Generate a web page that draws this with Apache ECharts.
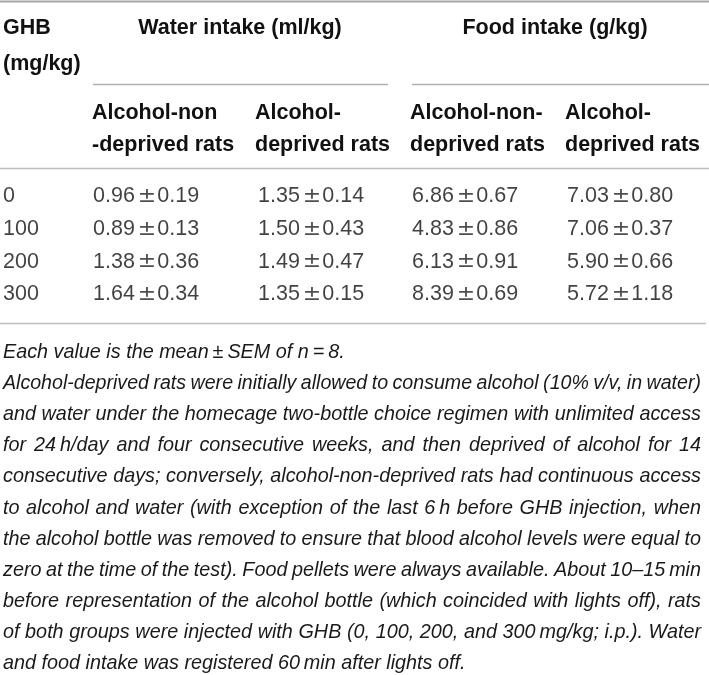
<!DOCTYPE html>
<html>
<head>
<meta charset="utf-8">
<script src="https://cdn.jsdelivr.net/npm/echarts@6/dist/echarts.min.js"></script>
<style>html,body{margin:0;padding:0;background:#fff}#c{width:709px;height:675px}</style>
</head>
<body>
<div id="c"></div>
<script>
// ---- data ----
const doses = ['0', '100', '200', '300'];
const waterNonDepMean = [0.96, 0.89, 1.38, 1.64];
const waterNonDepSem  = [0.19, 0.13, 0.36, 0.34];
const waterDepMean    = [1.35, 1.50, 1.49, 1.35];
const waterDepSem     = [0.14, 0.43, 0.47, 0.15];
const foodNonDepMean  = [6.86, 4.83, 6.13, 8.39];
const foodNonDepSem   = [0.67, 0.86, 0.91, 0.69];
const foodDepMean     = [7.03, 7.06, 5.90, 5.72];
const foodDepSem      = [0.80, 0.37, 0.66, 1.18];

const stubHeader = ['GHB', '(mg/kg)'];
const groupHeaders = ['Water intake (ml/kg)', 'Food intake (g/kg)'];
const colHeaders = [
  ['Alcohol-non', '-deprived rats'],
  ['Alcohol-', 'deprived rats'],
  ['Alcohol-non-', 'deprived rats'],
  ['Alcohol-', 'deprived rats']
];
const footnoteLines = [
  'Each value is the mean\u2009\u00b1\u2009SEM of n\u2009=\u20098.',
  'Alcohol-deprived rats were initially allowed to consume alcohol (10% v/v, in water)',
  'and water under the homecage two-bottle choice regimen with unlimited access',
  'for 24\u2009h/day and four consecutive weeks, and then deprived of alcohol for 14',
  'consecutive days; conversely, alcohol-non-deprived rats had continuous access',
  'to alcohol and water (with exception of the last 6\u2009h before GHB injection, when',
  'the alcohol bottle was removed to ensure that blood alcohol levels were equal to',
  'zero at the time of the test). Food pellets were always available. About 10\u201315\u2009min',
  'before representation of the alcohol bottle (which coincided with lights off), rats',
  'of both groups were injected with GHB (0, 100, 200, and 300\u2009mg/kg; i.p.). Water',
  'and food intake was registered 60\u2009min after lights off.'
];
const justified = [false, true, true, true, true, true, true, true, true, true, false];

// ---- layout ----
const FF = '"Liberation Sans", Arial, sans-serif';
const FS = 21.5;
const NFS = 19.8;
const colX = [3, 93, 258, 412, 567];
const fmt = (m, s) => '{n|' + m.toFixed(2) + '}{pm|\u00b1}{n|' + s.toFixed(2) + '}';

const columns = [
  doses.map(d => '{n|' + d + '}'),
  waterNonDepMean.map((m, i) => fmt(m, waterNonDepSem[i])),
  waterDepMean.map((m, i) => fmt(m, waterDepSem[i])),
  foodNonDepMean.map((m, i) => fmt(m, foodNonDepSem[i])),
  foodDepMean.map((m, i) => fmt(m, foodDepSem[i]))
];

const series = columns.map((col, j) => ({
  type: 'scatter',
  symbolSize: 0,
  silent: true,
  data: col.map((txt, i) => ({ value: [colX[j], i], name: txt })),
  label: {
    show: true, position: 'right', distance: 0,
    formatter: p => p.name,
    color: '#111', fontSize: FS, fontFamily: FF,
    rich: {
      n: { color: '#111', fontSize: FS, fontFamily: FF },
      pm: { color: '#222', fontSize: 22, fontFamily: '"DejaVu Sans"', padding: [0, 1, 0, 3] }
    }
  }
}));

const graphics = [];
const line = (x1, y1, x2, y2, w, c) => graphics.push({
  type: 'line', shape: { x1, y1, x2, y2 }, style: { stroke: c, lineWidth: w }, silent: true
});
const text = (t, x, y, opt) => graphics.push({
  type: 'text', x, y, silent: true,
  style: Object.assign({ text: t, fill: '#111', fontSize: FS, fontFamily: FF,
    textAlign: 'left', textVerticalAlign: 'middle' }, opt || {})
});

line(0, 1.5, 709, 1.5, 2, '#a8a8a8');
line(93, 84.5, 388, 84.5, 1.5, '#b0b0b0');
line(412, 84.5, 709, 84.5, 1.5, '#b0b0b0');
line(0, 168.5, 709, 168.5, 1.5, '#bdbdbd');
line(0, 323.5, 706, 323.5, 1.5, '#bdbdbd');

text(stubHeader[0], 3, 28, { fontWeight: 'bold' });
text(stubHeader[1], 3, 64, { fontWeight: 'bold' });
text(groupHeaders[0], 240, 28, { fontWeight: 'bold', textAlign: 'center' });
text(groupHeaders[1], 555, 28, { fontWeight: 'bold', textAlign: 'center' });
const subX = [92, 255, 410, 565];
colHeaders.forEach((h, j) => {
  text(h[0], subX[j], 113, { fontWeight: 'bold' });
  text(h[1], subX[j], 145, { fontWeight: 'bold' });
});

// footnote with justification
const ctx = document.createElement('canvas').getContext('2d');
const left = 3, right = 701;
footnoteLines.forEach((ln, i) => {
  const y = 352.5 + 31.1 * i;
  let size = NFS;
  const words = ln.split(' ');
  ctx.font = 'italic ' + size + 'px ' + FF;
  let widths = words.map(w => ctx.measureText(w).width);
  let total = widths.reduce((a, b) => a + b, 0);
  const minGap = ctx.measureText(' ').width * 0.8;
  while (justified[i] && total + minGap * (words.length - 1) > right - left && size > 14) {
    size -= 0.2;
    ctx.font = 'italic ' + size + 'px ' + FF;
    widths = words.map(w => ctx.measureText(w).width);
    total = widths.reduce((a, b) => a + b, 0);
  }
  const opt = { fontStyle: 'italic', fontSize: size, fill: '#1a1a1a' };
  if (!justified[i]) { text(ln, left, y, opt); return; }
  const gap = (right - left - total) / (words.length - 1);
  let x = left;
  words.forEach((w, k) => { text(w, x, y, opt); x += widths[k] + gap; });
});

const chart = echarts.init(document.getElementById('c'), null, { renderer: 'canvas' });
chart.setOption({
  animation: false,
  backgroundColor: '#fff',
  grid: { left: 0, right: 0, top: 180, height: 130.8 },
  xAxis: { type: 'value', min: 0, max: 709, show: false },
  yAxis: { type: 'category', data: doses, inverse: true, show: false },
  series: series,
  graphic: graphics
});
</script>
</body>
</html>
